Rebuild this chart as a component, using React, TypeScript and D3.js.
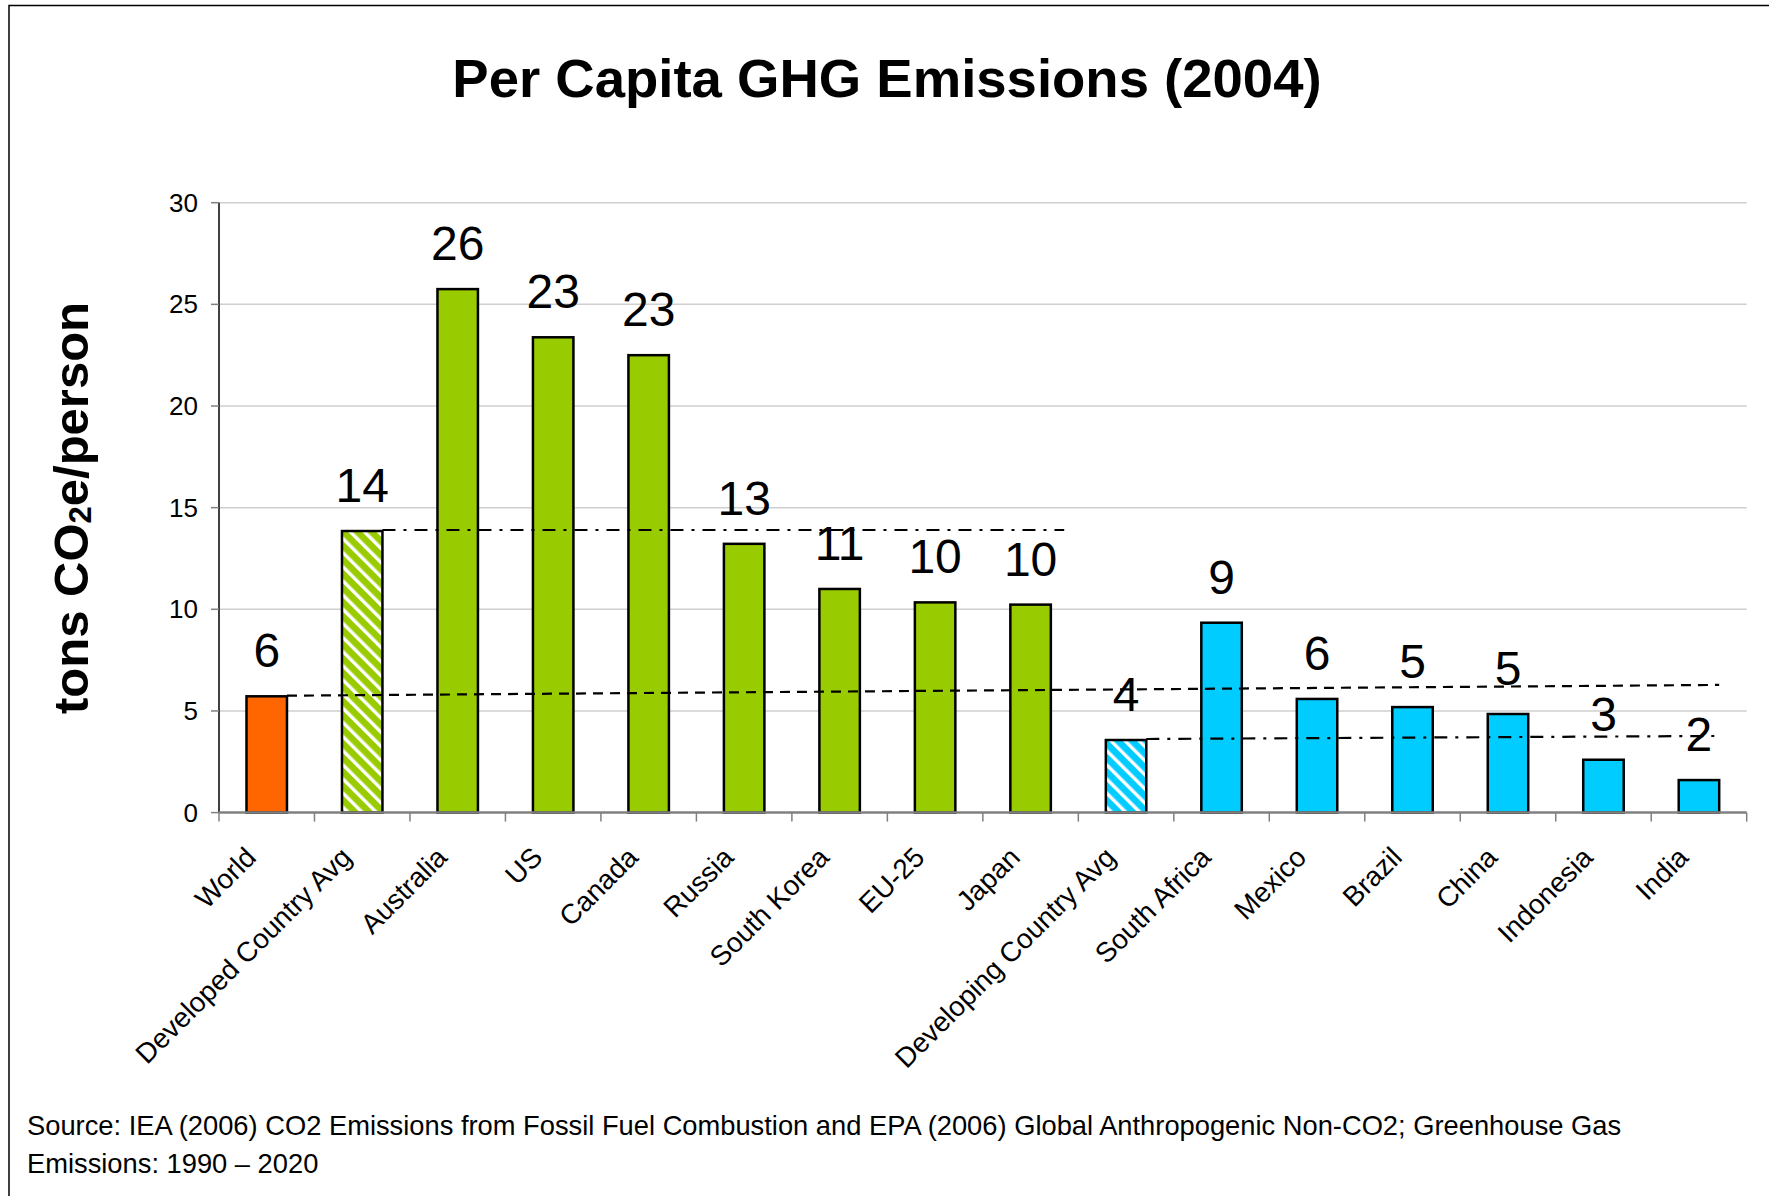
import * as d3 from "d3";

// categories and values (tons CO2e per person, 2004)
const categories = [
  "World",
  "Developed Country Avg",
  "Australia",
  "US",
  "Canada",
  "Russia",
  "South Korea",
  "EU-25",
  "Japan",
  "Developing Country Avg",
  "South Africa",
  "Mexico",
  "Brazil",
  "China",
  "Indonesia",
  "India",
];
const values = [5.72, 13.85, 25.75, 23.38, 22.5, 13.22, 11.0, 10.34, 10.23, 3.57, 9.34, 5.59, 5.19, 4.85, 2.6, 1.6];
const groups = [
  "world",
  "developedAvg",
  "developed",
  "developed",
  "developed",
  "developed",
  "developed",
  "developed",
  "developed",
  "developingAvg",
  "developing",
  "developing",
  "developing",
  "developing",
  "developing",
  "developing",
];
const yTicks = [0, 5, 10, 15, 20, 25, 30];

// average reference lines (start / end values as drawn)
const refFrom = ["World", "Developed Country Avg", "Developing Country Avg"];
const refTo = ["India", "Japan", "India"];
const refStart = [5.75, 13.9, 3.62];
const refEnd = [6.28, 13.9, 3.77];
const refKind = ["dashed", "dashdot", "dashdot"];

const W = 1769;
const H = 1196;
const FONT = "'Liberation Sans', Arial, Helvetica, sans-serif";

const fills: Record<string, string> = {
  world: "#FF6600",
  developedAvg: "url(#hatchGreen)",
  developed: "#99CC00",
  developingAvg: "url(#hatchBlue)",
  developing: "#00CCFF",
};

export default function App() {
  const x = d3
    .scaleBand<string>()
    .domain(categories)
    .range([219, 1746.7])
    .paddingInner(0.576)
    .paddingOuter(0.288);
  const y = d3.scaleLinear().domain([0, 30]).range([812.6, 202.7]);
  const bw = x.bandwidth();
  const step = x.step();
  const x0 = x.range()[0];
  const x1 = x.range()[1];

  return (
    <svg
      width={W}
      height={H}
      style={{ position: "absolute", left: 0, top: 0, background: "#fff" }}
      fontFamily={FONT}
    >
      <defs>
        <pattern id="hatchGreen" patternUnits="userSpaceOnUse" width="10" height="10" patternTransform="rotate(-45)">
          <rect width="10" height="10" fill="#99CC00" />
          <rect x="0" y="0" width="3.4" height="10" fill="#fff" />
        </pattern>
        <pattern id="hatchBlue" patternUnits="userSpaceOnUse" width="10" height="10" patternTransform="rotate(-45)">
          <rect width="10" height="10" fill="#00CCFF" />
          <rect x="0" y="0" width="3.4" height="10" fill="#fff" />
        </pattern>
      </defs>

      <rect x={0} y={0} width={W} height={H} fill="#fff" />
      {/* frame (cropped at right and bottom) */}
      <path d={`M9,${H} V5.5 H${W}`} fill="none" stroke="#000" strokeWidth={1.5} />

      <text x={887} y={97} textAnchor="middle" fontSize={54.5} fontWeight="bold">
        Per Capita GHG Emissions (2004)
      </text>

      {/* gridlines */}
      {yTicks.slice(1).map((t) => (
        <line key={t} x1={x0} x2={x1} y1={y(t)} y2={y(t)} stroke="#cfcfcf" strokeWidth={1.5} />
      ))}

      {/* y axis */}
      <line x1={x0} x2={x0} y1={y(30)} y2={y(0)} stroke="#000" strokeWidth={1.5} />
      {yTicks.map((t) => (
        <g key={t}>
          <line x1={x0 - 8} x2={x0} y1={y(t)} y2={y(t)} stroke="#808080" strokeWidth={1.5} />
          <text x={x0 - 21} y={y(t)} dy="0.35em" textAnchor="end" fontSize={26}>
            {t}
          </text>
        </g>
      ))}

      <text transform={`translate(88,508) rotate(-90)`} textAnchor="middle" fontSize={49} fontWeight="bold">
        tons CO
        <tspan fontSize={31} dy={3}>
          2
        </tspan>
        <tspan dy={-3}>e/person</tspan>
      </text>

      {/* bars */}
      {categories.map((c, i) => (
        <rect
          key={c}
          x={x(c)}
          y={y(values[i])}
          width={bw}
          height={y(0) - y(values[i])}
          fill={fills[groups[i]]}
          stroke="#000"
          strokeWidth={2.5}
        />
      ))}

      {/* reference lines */}
      {refFrom.map((f, i) => {
        const xs = (x(f) as number) + bw;
        const xe = (x(refTo[i]) as number) + bw + (refTo[i] === "Japan" ? step * 0.14 : 0);
        return (
          <line
            key={f}
            x1={xs}
            x2={xe}
            y1={y(refStart[i])}
            y2={y(refEnd[i])}
            stroke="#000"
            strokeWidth={2.2}
            strokeDasharray={refKind[i] === "dashed" ? "10 7" : "13 8 3 8"}
          />
        );
      })}

      {/* value labels */}
      {categories.map((c, i) => (
        <text
          key={c}
          x={(x(c) as number) + bw / 2}
          y={y(values[i]) - 29}
          textAnchor="middle"
          fontSize={48}
        >
          {Math.round(values[i])}
        </text>
      ))}

      {/* x axis */}
      <line x1={x0} x2={x1} y1={y(0)} y2={y(0)} stroke="#808080" strokeWidth={2.5} />
      {d3.range(categories.length + 1).map((k) => (
        <line
          key={k}
          x1={x0 + k * step}
          x2={x0 + k * step}
          y1={y(0)}
          y2={y(0) + 9}
          stroke="#808080"
          strokeWidth={1.5}
        />
      ))}
      {categories.map((c) => (
        <text
          key={c}
          transform={`translate(${(x(c) as number) + bw / 2 - 9},859) rotate(-45)`}
          textAnchor="end"
          fontSize={27.8}
        >
          {c}
        </text>
      ))}

      <text x={27} y={1135} fontSize={27.3}>
        Source: IEA (2006) CO2 Emissions from Fossil Fuel Combustion and EPA (2006) Global Anthropogenic Non-CO2;
        Greenhouse Gas
      </text>
      <text x={27} y={1173} fontSize={27.3}>
        Emissions: 1990 – 2020
      </text>
    </svg>
  );
}
